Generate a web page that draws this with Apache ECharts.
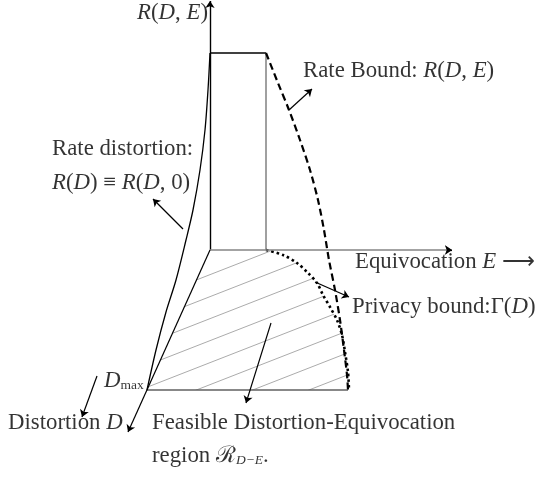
<!DOCTYPE html>
<html>
<head>
<meta charset="utf-8">
<script src="https://cdn.jsdelivr.net/npm/echarts@6/dist/echarts.min.js"></script>
<style>
  html, body { margin: 0; padding: 0; background: #fff; }
  #main { width: 538px; height: 477px; }
</style>
</head>
<body>
<div id="main"></div>
<script>
// diagram points (x to the right, y downwards)
const rAxis = [[210, 250], [210, 1]];
const eAxis = [[210, 250], [452, 250]];
const dAxis = [[210, 250], [128, 432]];
const boxTop = [[210, 53], [266, 53]];
const boxSide = [[266, 53], [266, 250]];
const floorBottom = [[147, 390], [348, 390]];

const rateDistortion = [[210, 53], [208, 90], [205, 130], [200, 170], [193, 210], [186, 240],
  [176, 280], [166, 312], [156, 350], [147, 390]];
const rateBound = [[266, 53], [278, 83], [289, 110], [300, 140], [310, 170], [318, 200],
  [324, 230], [329, 260], [335, 290], [340, 320], [344, 350], [347, 375], [348, 390]];
const privacyBound = [[266, 250], [283, 255], [297, 263], [308, 273], [317, 283], [323, 295],
  [330, 307], [337, 320], [342, 335], [345, 352], [348, 372], [349, 390]];

// hatch lines, start and end, clipped to the floor region
const hatchLines = [
  [[140, 302], [355, 218]], [[140, 324], [355, 240]], [[140, 346], [355, 262]],
  [[140, 368], [355, 284]], [[140, 390], [355, 306]], [[140, 412], [355, 328]],
  [[140, 434], [355, 350]], [[140, 456], [355, 372]]
];

// annotation arrows (tail, head)
const arrows = [
  [[289, 110], [312, 89]],
  [[183, 229], [153, 199]],
  [[315, 282], [349, 297]],
  [[271, 323], [246, 403]],
  [[97, 376], [82, 417]]
];

// texts: anchor point, side, rich text
const labelPos = [[208, 13], [303, 71], [52, 149], [52, 183], [355, 262], [352, 307],
  [104, 381], [8, 423], [152, 423], [152, 456]];
const labelSide = ['left', 'right', 'right', 'right', 'right', 'right', 'right', 'right', 'right', 'right'];
const labelText = [
  '{i|R}({i|D}, {i|E})',
  'Rate Bound: {i|R}({i|D}, {i|E})',
  'Rate distortion:',
  '{i|R}({i|D}) ≡ {i|R}({i|D}, 0)',
  'Equivocation {i|E} ⟶',
  'Privacy bound:Γ({i|D})',
  '{i|D}{sub|max}',
  'Distortion {i|D}',
  'Feasible Distortion-Equivocation',
  'region ℛ{isub|D−E}.'
];

const serif = "'Liberation Serif', 'Times New Roman', serif";
const floorPolygon = [[210, 250]].concat(privacyBound, [[147, 390]]);

const myChart = echarts.init(document.getElementById('main'));

function lineSeries(points, style) {
  return {
    type: 'line',
    data: points,
    showSymbol: false,
    smooth: style.smooth || false,
    silent: true,
    lineStyle: { color: style.color || '#000', width: style.width || 1.3, type: style.type || 'solid' },
    z: style.z || 3
  };
}

const option = {
  animation: false,
  grid: { left: 0, right: 0, top: 0, bottom: 0 },
  xAxis: { type: 'value', min: 0, max: 538, show: false },
  yAxis: { type: 'value', min: 0, max: 477, inverse: true, show: false },
  series: [
    {
      type: 'custom',
      silent: true,
      data: [0],
      renderItem: function (params, api) {
        const clip = floorPolygon.map(function (p) { return api.coord(p); });
        return {
          type: 'group',
          clipPath: { type: 'polygon', shape: { points: clip } },
          children: hatchLines.map(function (seg) {
            const a = api.coord(seg[0]);
            const b = api.coord(seg[1]);
            return {
              type: 'line',
              shape: { x1: a[0], y1: a[1], x2: b[0], y2: b[1] },
              style: { stroke: '#ababab', lineWidth: 1 }
            };
          })
        };
      },
      z: 1
    },
    lineSeries(boxTop, { width: 1.4 }),
    lineSeries(boxSide, { color: '#808080', width: 1.5 }),
    lineSeries(floorBottom, { color: '#606060', width: 1.5 }),
    lineSeries(rateDistortion, { width: 1.3, smooth: 0.3 }),
    lineSeries(rateBound, { width: 2.2, type: [7, 4], smooth: 0.3 }),
    lineSeries(privacyBound, { width: 2.6, type: [2.5, 3], smooth: 0.3 }),
    {
      type: 'lines',
      coordinateSystem: 'cartesian2d',
      silent: true,
      symbol: ['none', 'arrow'],
      symbolSize: 7,
      lineStyle: { color: '#000', width: 1.2, opacity: 1 },
      data: [
        { coords: rAxis, lineStyle: { width: 1.4 } },
        { coords: eAxis, lineStyle: { color: '#858585', width: 1.5 } },
        { coords: [eAxis[1].map(function (v, k) { return k === 0 ? v - 5 : v; }), eAxis[1]] },
        { coords: dAxis }
      ].concat(arrows.map(function (a) { return { coords: a }; })),
      z: 4
    },
    {
      type: 'scatter',
      symbolSize: 0,
      silent: true,
      data: labelPos.map(function (p, k) {
        return {
          value: p,
          label: {
            show: true,
            position: labelSide[k],
            distance: 0,
            formatter: labelText[k]
          }
        };
      }),
      label: {
        color: '#000',
        fontFamily: serif,
        fontSize: 22.8,
        rich: {
          i: { fontFamily: serif, fontSize: 22.8, fontStyle: 'italic', color: '#000' },
          sub: { fontFamily: serif, fontSize: 13.5, color: '#000', verticalAlign: 'bottom', lineHeight: 12 },
          isub: { fontFamily: serif, fontSize: 13.5, fontStyle: 'italic', color: '#000', verticalAlign: 'bottom', lineHeight: 12 }
        }
      },
      z: 5
    }
  ]
};

myChart.setOption(option);
window.addEventListener('resize', function () {
  myChart.resize();
});
</script>
</body>
</html>
